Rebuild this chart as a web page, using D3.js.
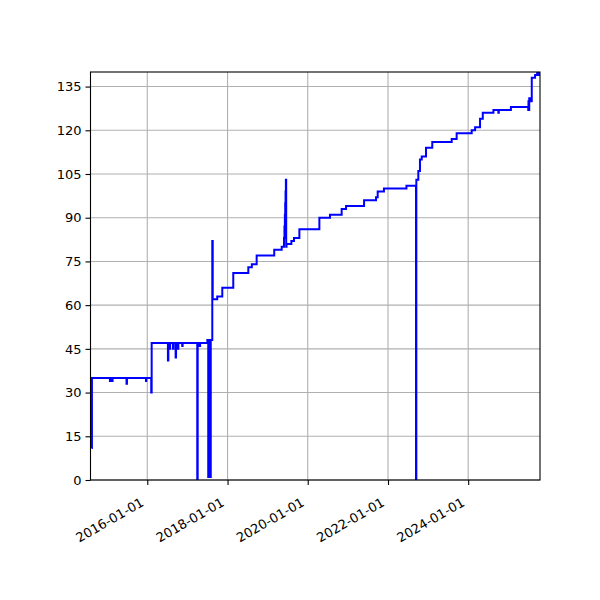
<!DOCTYPE html>
<html>
<head>
<meta charset="utf-8">
<script src="https://cdn.jsdelivr.net/npm/d3@7"></script>
<style>
  body { margin: 0; background: #fff; }
  text { font-family: "DejaVu Sans", sans-serif; }
</style>
</head>
<body>
<div id="chart"></div>
<script>
// values (step series)
const dates = [
  "2014-08-11", "2014-08-15", "2015-01-26", "2015-01-29", "2015-02-16", "2015-02-19",
  "2015-06-26", "2015-06-30", "2015-12-20", "2015-12-23", "2016-02-06", "2016-02-10",
  "2016-07-07", "2016-07-11", "2016-07-23", "2016-07-27", "2016-08-22", "2016-08-26",
  "2016-09-15", "2016-09-19", "2016-10-06", "2016-10-10", "2016-11-14", "2016-11-18",
  "2017-03-31", "2017-04-04", "2017-04-22", "2017-04-26", "2017-07-01", "2017-07-09",
  "2017-07-13", "2017-07-28", "2017-08-01", "2017-08-15", "2017-08-19", "2017-09-29",
  "2017-11-14", "2018-02-22", "2018-07-09", "2018-08-10", "2018-09-23", "2019-03-02",
  "2019-05-09", "2019-05-30", "2019-06-03", "2019-06-07", "2019-06-10", "2019-06-13",
  "2019-06-16", "2019-06-19", "2019-06-22", "2019-07-24",
  "2019-08-05", "2019-08-29", "2019-10-17", "2020-04-16", "2020-07-22", "2020-11-05",
  "2020-12-15", "2021-05-28", "2021-09-14", "2021-09-29", "2021-11-25", "2022-06-18",
  "2022-09-13", "2022-09-16", "2022-10-04", "2022-10-19", "2022-11-04", "2022-12-13",
  "2023-02-08", "2023-08-04", "2023-09-18", "2024-02-02", "2024-03-04", "2024-04-18",
  "2024-05-13", "2024-08-18", "2024-10-02", "2024-10-06", "2025-01-24", "2025-07-01",
  "2025-07-03", "2025-07-06", "2025-07-10", "2025-07-20", "2025-08-02", "2025-09-01",
  "2025-09-20", "2025-10-05", "2025-10-08", "2025-10-16"
];
const values = [
  11, 35, 34, 35, 34, 35,
  33, 35, 34, 35, 30, 47,
  41, 47, 45, 47, 45, 47,
  42, 47, 45, 47, 46, 47,
  0, 47, 46, 47, 48, 1,
  48, 1, 48, 82, 62, 63,
  66, 71, 73, 74, 77, 79,
  80, 83, 87, 91, 95, 99,
  103, 80, 81, 81,
  82, 83, 86, 90, 91, 93,
  94, 96, 97, 99, 100, 101,
  0, 103, 106, 110, 111, 114,
  116, 117, 119, 120, 121, 124,
  126, 127, 126, 127, 128, 127,
  130, 127, 131, 130, 138, 139,
  140, 139, 140, 140
];
const xStart = "2014-08-02";
const xEnd = "2025-10-16";
const yTicks = [0, 15, 30, 45, 60, 75, 90, 105, 120, 135];
const xTickLabels = ["2016-01-01", "2018-01-01", "2020-01-01", "2022-01-01", "2024-01-01"];
const yMax = 140;

const width = 600, height = 600;
const margin = { top: 72, right: 60, bottom: 120, left: 90.5 };
const innerW = width - margin.left - margin.right;
const innerH = height - margin.top - margin.bottom;

const parse = d3.timeParse("%Y-%m-%d");
const points = dates.map((d, i) => ({ date: parse(d), value: values[i] }));

const x = d3.scaleTime()
  .domain([parse(xStart), parse(xEnd)])
  .range([0, innerW]);
const y = d3.scaleLinear()
  .domain([0, yMax])
  .range([innerH, 0]);

const svg = d3.select("#chart").append("svg")
  .attr("width", width)
  .attr("height", height);

const g = svg.append("g")
  .attr("transform", `translate(${margin.left},${margin.top})`);

svg.append("defs").append("clipPath").attr("id", "plot-clip")
  .append("rect").attr("width", innerW).attr("height", innerH);

// grid
g.append("g").selectAll("line")
  .data(xTickLabels.map(parse))
  .join("line")
  .attr("x1", d => x(d)).attr("x2", d => x(d))
  .attr("y1", 0).attr("y2", innerH)
  .attr("stroke", "#b0b0b0").attr("stroke-width", 1.1);
g.append("g").selectAll("line")
  .data(yTicks)
  .join("line")
  .attr("x1", 0).attr("x2", innerW)
  .attr("y1", d => y(d)).attr("y2", d => y(d))
  .attr("stroke", "#b0b0b0").attr("stroke-width", 1.1);

// line
const line = d3.line()
  .x(d => x(d.date))
  .y(d => y(d.value))
  .curve(d3.curveStepAfter);

g.append("path")
  .datum(points)
  .attr("clip-path", "url(#plot-clip)")
  .attr("fill", "none")
  .attr("stroke", "#0000ff")
  .attr("stroke-width", 2)
  .attr("d", line);

// axes
const xAxis = g.append("g")
  .attr("transform", `translate(0,${innerH})`)
  .call(d3.axisBottom(x)
    .tickValues(xTickLabels.map(parse))
    .tickFormat(d3.timeFormat("%Y-%m-%d"))
    .tickSize(5).tickSizeOuter(0));
xAxis.select(".domain").remove();
xAxis.selectAll("line").attr("stroke", "#000").attr("stroke-width", 1.1);
xAxis.selectAll("text")
  .attr("font-size", 13)
  .attr("fill", "#000")
  .attr("text-anchor", "end")
  .attr("dy", null)
  .attr("y", 0)
  .attr("transform", "translate(-3,25) rotate(-30)");

const yAxis = g.append("g")
  .call(d3.axisLeft(y)
    .tickValues(yTicks)
    .tickSize(5).tickSizeOuter(0)
    .tickPadding(4));
yAxis.select(".domain").remove();
yAxis.selectAll("line").attr("stroke", "#000").attr("stroke-width", 1.1);
yAxis.selectAll("text")
  .attr("font-size", 13)
  .attr("fill", "#000");

// frame
g.append("rect")
  .attr("width", innerW).attr("height", innerH)
  .attr("fill", "none")
  .attr("stroke", "#000")
  .attr("stroke-width", 1.1);
</script>
</body>
</html>
